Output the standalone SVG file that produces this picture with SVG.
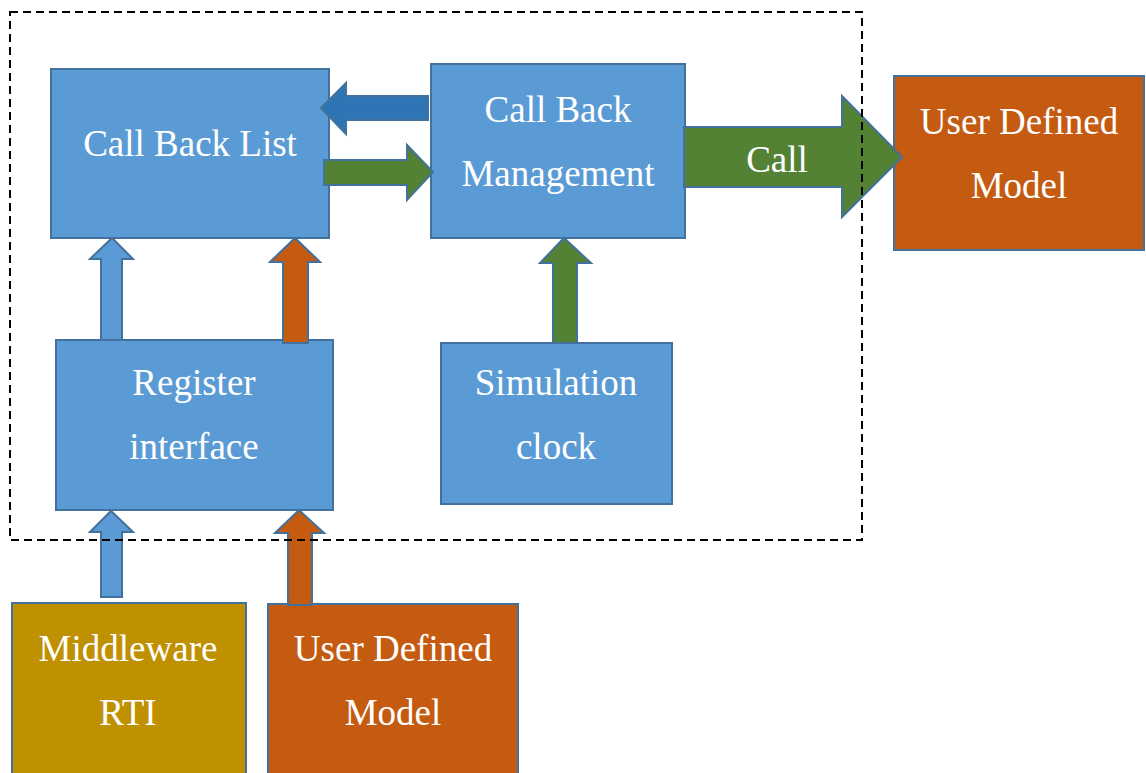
<svg xmlns="http://www.w3.org/2000/svg" width="1146" height="773" viewBox="0 0 1146 773">
<style>
.box{stroke:#41719C;stroke-width:2}
.blue{fill:#5B9BD5}
.orange{fill:#C55A11}
.gold{fill:#BF9000}
.green{fill:#548235}
.dblue{fill:#2E75B6}
.arr{stroke:#41719C;stroke-width:2;stroke-linejoin:miter}
text{font-family:"Liberation Serif","Times New Roman",serif;font-size:37px;fill:#FFFFFF;text-anchor:middle}
</style>
<g id="callbacklist"><rect class="box blue" x="51" y="69" width="278" height="169"/><text x="190" y="156">Call Back List</text></g>
<g id="callbackmgmt"><rect class="box blue" x="431" y="64" width="254" height="174"/><text x="558" y="122">Call Back</text><text x="558" y="186">Management</text></g>
<g id="userdefined1"><rect class="box orange" x="894" y="76" width="250" height="174"/><text x="1019" y="134">User Defined</text><text x="1019" y="198">Model</text></g>
<g id="register"><rect class="box blue" x="56" y="340" width="277" height="170"/><text x="194" y="395">Register</text><text x="194" y="459">interface</text></g>
<g id="simclock"><rect class="box blue" x="441" y="343" width="231" height="161"/><text x="556" y="395">Simulation</text><text x="556" y="459">clock</text></g>
<g id="middleware"><rect class="box gold" x="12" y="603" width="234" height="175"/><text x="128" y="661">Middleware</text><text x="128" y="725">RTI</text></g>
<g id="userdefined2"><rect class="box orange" x="268" y="604" width="250" height="175"/><text x="393" y="661">User Defined</text><text x="393" y="725">Model</text></g>
<g id="connectors">
<polygon class="arr dblue" points="428,96 346,96 346,83 321,108 346,134 346,120 428,120"/>
<polygon class="arr green" points="324,160 407,160 407,145 433,172 407,200 407,185 324,185"/>
<polygon class="arr green" points="684,127 842,127 842,96 902,157 842,217 842,187 684,187"/>
<text x="777" y="172">Call</text>
<polygon class="arr blue" points="101,340 101,259 90,259 112,238 133,259 122,259 122,340"/>
<polygon class="arr orange" points="283,343 283,262 270,262 295,238 320,262 308,262 308,343"/>
<polygon class="arr green" points="553,343 553,263 540,263 564,238 591,263 577,263 577,343"/>
<polygon class="arr blue" points="101,597 101,532 90,532 111,511 133,532 122,532 122,597"/>
<polygon class="arr orange" points="288,605 288,533 275,533 299,510 324,533 312,533 312,605"/>
</g>
<rect x="10" y="12" width="852" height="528" fill="none" stroke="#000" stroke-width="2" stroke-dasharray="8,5"/>
</svg>
